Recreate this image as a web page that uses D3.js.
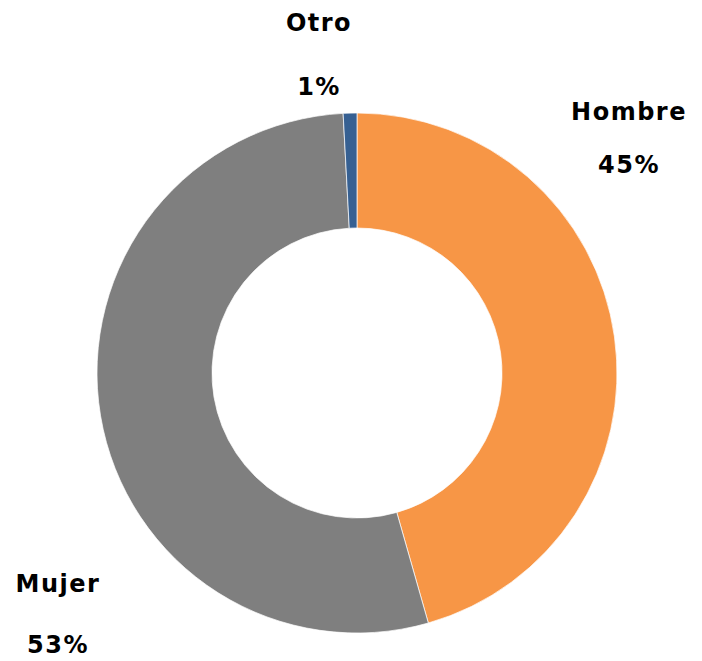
<!DOCTYPE html>
<html>
<head>
<meta charset="utf-8">
<script src="https://cdn.jsdelivr.net/npm/d3@7"></script>
<style>
    html, body { margin: 0; padding: 0; background: #ffffff; }
    svg { display: block; }
</style>
</head>
<body>
<div id="chart"></div>
<script>
(function () {
    "use strict";

    // slices in drawing order, clockwise from 12 o'clock
    const categories = ["Hombre", "Mujer", "Otro"];
    const values = [45.6, 53.6, 0.85];
    const percentLabels = ["45%", "53%", "1%"];
    const colors = ["#F79646", "#7F7F7F", "#366092"];

    // label anchor points (name line, percent line below)
    const labelPos = {
        Hombre: { x: 629, y: 120, gap: 53 },
        Mujer: { x: 58, y: 592, gap: 61 },
        Otro: { x: 319, y: 31, gap: 64 }
    };

    const width = 702;
    const height = 661;
    const cx = 357;
    const cy = 373;
    const outerR = 260;
    const innerR = 145;

    const svg = d3.select("#chart")
        .append("svg")
        .attr("width", width)
        .attr("height", height)
        .attr("viewBox", [0, 0, width, height]);

    const data = categories.map((name, i) => ({
        name,
        value: values[i],
        label: percentLabels[i],
        color: colors[i]
    }));

    const pie = d3.pie()
        .value((d) => d.value)
        .sort(null);

    const arc = d3.arc()
        .innerRadius(innerR)
        .outerRadius(outerR);

    const group = svg.append("g")
        .attr("transform", `translate(${cx},${cy})`);

    group.selectAll("path")
        .data(pie(data))
        .join("path")
        .attr("d", arc)
        .attr("fill", (d) => d.data.color)
        .attr("stroke", "#ffffff")
        .attr("stroke-width", 0.7);

    const labels = svg.append("g")
        .attr("text-anchor", "middle")
        .style("font-family", "'DejaVu Sans', sans-serif")
        .style("font-weight", "700")
        .style("font-size", "24px")
        .attr("fill", "#000000")
        .selectAll("g")
        .data(data)
        .join("g")
        .attr("transform", (d) => `translate(${labelPos[d.name].x},${labelPos[d.name].y})`);

    labels.append("text")
        .attr("letter-spacing", "1.5px")
        .text((d) => d.name);

    labels.append("text")
        .attr("y", (d) => labelPos[d.name].gap)
        .attr("letter-spacing", "1.5px")
        .text((d) => d.label);
})();
</script>
</body>
</html>
